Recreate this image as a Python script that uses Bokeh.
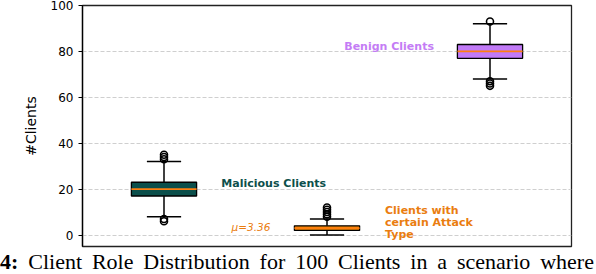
from bokeh.plotting import figure
from bokeh.models import Range1d, Label, FixedTicker, Div
from bokeh.layouts import column
from bokeh.embed import file_html
from bokeh.resources import INLINE

# ---- data ----
categories = ["Malicious Clients", "Clients with certain Attack Type", "Benign Clients"]
positions = [1, 2, 3]
q1 = [17, 2, 77]
median = [20, 3, 80]
q3 = [23, 4, 83]
whisker_low = [8, 0, 68]
whisker_high = [32, 7, 92]
outliers_malicious = [6, 7, 33, 34, 35]
outliers_attack = [8, 9, 10, 11, 12]
outliers_benign = [65, 66, 67, 93]
attack_mean = 3.36
y_ticks = [0, 20, 40, 60, 80, 100]
caption_number = "4:"
caption_words = ["Client", "Role", "Distribution", "for", "100", "Clients", "in", "a", "scenario", "where"]

box_colors = ["#0b4f4b", "#f58a07", "#c17af7"]
text_colors = ["#0d4f4b", "#ea7d10", "#c47cf5"]

# ---- layout ----
W = 596
H_MAIN = 250
H_CAP = 24
FL, FR, FT, FB = 82, 571, 5, 246
X0, X1, Y0, Y1 = 0.5, 3.5, -5, 100

p = figure(width=W, height=H_MAIN, x_range=Range1d(X0, X1), y_range=Range1d(Y0, Y1),
           output_backend="svg", toolbar_location=None,
           min_border_left=FL, min_border_right=W - FR,
           min_border_top=FT, min_border_bottom=H_MAIN - FB)

p.xaxis.visible = False
p.xgrid.visible = False
p.ygrid.ticker = FixedTicker(ticks=y_ticks)
p.ygrid.grid_line_color = "#cfcfcf"
p.ygrid.grid_line_dash = "4 2"
p.ygrid.grid_line_width = 1

p.outline_line_color = "#222222"
p.outline_line_width = 1.3
p.outline_line_alpha = 1

ax = p.yaxis[0]
ax.ticker = FixedTicker(ticks=y_ticks)
ax.minor_tick_line_color = None
ax.major_tick_in = 0
ax.major_tick_out = 4
ax.major_tick_line_color = "black"
ax.major_tick_line_width = 1
ax.axis_line_color = "black"
ax.axis_line_width = 1.3
ax.major_label_text_font = "DejaVu Sans"
ax.major_label_text_font_size = "12px"
ax.major_label_text_color = "black"
ax.major_label_standoff = 5
ax.axis_label = "#Clients"
ax.axis_label_text_font = "DejaVu Sans"
ax.axis_label_text_font_size = "14px"
ax.axis_label_text_font_style = "normal"
ax.axis_label_text_color = "black"
ax.axis_label_standoff = 9

p.background_fill_color = "white"
p.border_fill_color = "white"

# ---- box plots ----
box_w = 0.4
cap_half = 0.105
p.segment(x0=positions, y0=q3, x1=positions, y1=whisker_high, line_color="black", line_width=1.5)
p.segment(x0=positions, y0=q1, x1=positions, y1=whisker_low, line_color="black", line_width=1.5)
p.segment(x0=[x - cap_half for x in positions], y0=whisker_high,
          x1=[x + cap_half for x in positions], y1=whisker_high, line_color="black", line_width=1.5)
p.segment(x0=[x - cap_half for x in positions], y0=whisker_low,
          x1=[x + cap_half for x in positions], y1=whisker_low, line_color="black", line_width=1.5)
p.vbar(x=positions, width=box_w, top=q3, bottom=q1, fill_color=box_colors,
       line_color="black", line_width=1.3)
p.segment(x0=[x - box_w / 2 for x in positions], y0=median,
          x1=[x + box_w / 2 for x in positions], y1=median, line_color="#ff7f0e", line_width=1.6)

out_x = ([positions[0]] * len(outliers_malicious) + [positions[1]] * len(outliers_attack)
         + [positions[2]] * len(outliers_benign))
out_y = outliers_malicious + outliers_attack + outliers_benign
p.scatter(x=out_x, y=out_y, marker="circle", size=7, fill_color=None,
          line_color="black", line_width=1.6)

# ---- annotations ----
FONT = "DejaVu Sans"
p.add_layout(Label(x=2.381, y=82.3, text=categories[2], text_font=FONT, text_font_size="11px",
                   text_font_style="bold", text_color=text_colors[2],
                   text_align="center", text_baseline="middle"))
p.add_layout(Label(x=1.673, y=22.3, text=categories[0], text_font=FONT, text_font_size="11px",
                   text_font_style="bold", text_color=text_colors[0],
                   text_align="center", text_baseline="middle"))
for line, yv in zip(["Clients with", "certain Attack", "Type"], [10.5, 5.3, 0.2]):
    p.add_layout(Label(x=2.356, y=yv, text=line, text_font=FONT, text_font_size="11px",
                       text_font_style="bold", text_color=text_colors[1],
                       text_align="left", text_baseline="middle"))
p.add_layout(Label(x=1.534, y=attack_mean, text="\u03bc=%.2f" % attack_mean, text_font=FONT,
                   text_font_size="10.5px", text_font_style="italic", text_color=text_colors[1],
                   text_align="center", text_baseline="middle"))

# ---- caption line below the chart (stretched like the paper's justified caption) ----
caption_html = "<b>%s</b> %s" % (caption_number, " ".join(caption_words))
cap = Div(text=caption_html, width=W, height=H_CAP, margin=0,
          styles={"font-family": "'Liberation Serif', 'Times New Roman', serif",
                  "font-size": "22px", "line-height": "24px", "color": "black",
                  "word-spacing": "4.4px", "white-space": "nowrap",
                  "overflow": "hidden", "background-color": "white"})

layout = column(p, cap, spacing=0)
open("out.html", "w").write(file_html(layout, INLINE))
